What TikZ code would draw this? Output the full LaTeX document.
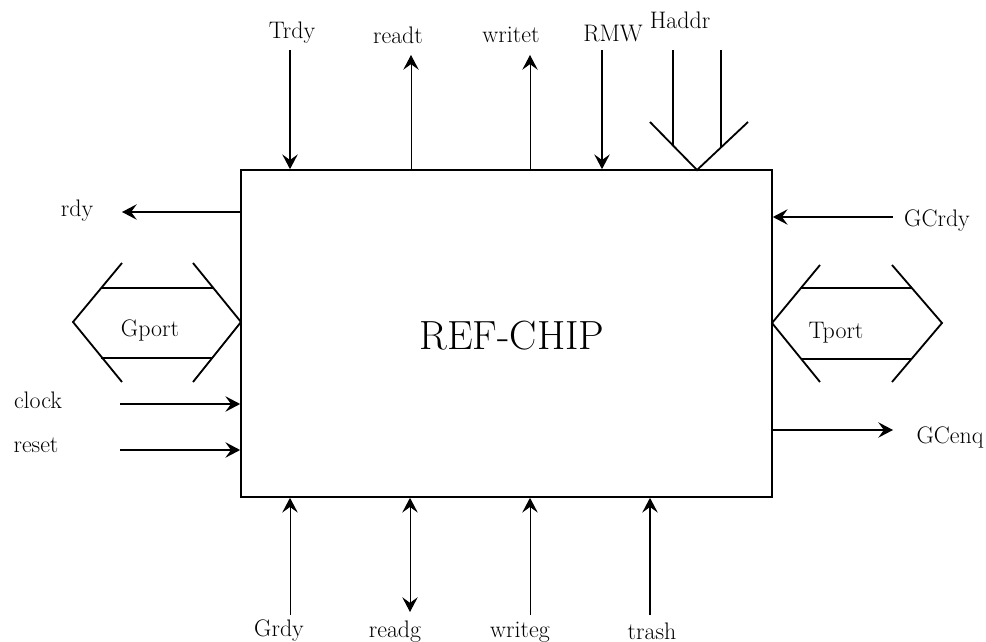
\documentclass[tikz,border=0pt]{standalone}
\usepackage{tikz}
\usetikzlibrary{arrows.meta,positioning,calc}

\begin{document}
\begin{tikzpicture}[
    x=0.025cm, y=-0.025cm,
    >={Stealth[length=10.5pt,width=11pt,inset=4pt]},
    font=\fontsize{17}{19}\selectfont,
    chip/.style={
        draw=black,
        line width=1.1pt,
        minimum width=13.275cm,
        minimum height=8.175cm,
        inner sep=0pt
    },
    sig/.style={->, line width=1pt},
    thinsig/.style={->, line width=0.7pt},
    port/.style={line width=1.3pt, line join=miter},
    bar/.style={line width=1pt},
    lbl/.style={inner sep=0pt}
]
\useasboundingbox (0,0) rectangle (986,642);

% chip
\node[chip] (chip) at (506.5,333.5) {};
\node[font=\fontsize{29}{33}\selectfont] (title) at (512,336) {REF-CHIP};

% top signals
\coordinate (trdy-s) at (290,50);
\coordinate (readt-e) at (411,55);
\coordinate (writet-e) at (530,55);
\coordinate (rmw-s) at (602,50);

\node[lbl] (trdy) at (292,33) {Trdy};
\node[lbl] (readt) at (398,35) {readt};
\node[lbl] (writet) at (511,35) {writet};
\node[lbl] (rmw) at (613,34) {RMW};
\node[lbl] (haddr) at (680,20) {Haddr};

\draw[sig] (trdy-s) -- (trdy-s |- chip.north);
\draw[thinsig] (chip.north -| readt-e) -- (readt-e);
\draw[thinsig] (chip.north -| writet-e) -- (writet-e);
\draw[sig] (rmw-s) -- (rmw-s |- chip.north);

% Haddr bus
\coordinate (haddr-a) at (673,50);
\coordinate (haddr-b) at (721,50);
\draw[port] (650,122) -- (697,170) -- (748,122);
\draw[bar] (haddr-a) -- (673,145.5);
\draw[bar] (haddr-b) -- (721,147.4);

% left side
\coordinate (rdy-e) at (122,212);
\coordinate (clock-s) at (120,404);
\coordinate (reset-s) at (120,450);

\node[lbl] (rdy) at (77,211) {rdy};
\node[lbl] (clock) at (38,400) {clock};
\node[lbl] (reset) at (36,445) {reset};

\draw[sig] (chip.west |- rdy-e) -- (rdy-e);
\draw[sig] (clock-s) -- (clock-s -| chip.west);
\draw[sig] (reset-s) -- (reset-s -| chip.west);

% Gport
\draw[port] (122,263) -- (73,322) -- (122,382);
\draw[port] (193,263) -- (241,322) -- (193,382);
\draw[bar] (101,288) -- (213,288) (101,358) -- (213,358);
\node[lbl] (gport) at (150,330) {Gport};

% right side
\coordinate (gcrdy-s) at (893,217);
\coordinate (gcenq-e) at (893,430);

\node[lbl] (gcrdy) at (937,221) {GCrdy};
\node[lbl] (gcenq) at (950,437) {GCenq};

\draw[sig] (gcrdy-s) -- (gcrdy-s -| chip.east);
\draw[sig] (chip.east |- gcenq-e) -- (gcenq-e);

% Tport
\draw[port] (820,265) -- (772,323) -- (820,382);
\draw[port] (892,265) -- (942,323) -- (892,382);
\draw[bar] (801,288) -- (912,288) (801,359) -- (912,359);
\node[lbl] (tport) at (836,333) {Tport};

% bottom signals
\coordinate (grdy-s) at (290,615);
\coordinate (readg-e) at (410,612);
\coordinate (writeg-s) at (530,615);
\coordinate (trash-s) at (650,615);

\node[lbl] (grdy) at (279,631) {Grdy};
\node[lbl] (readg) at (395,632) {readg};
\node[lbl] (writeg) at (520,632) {writeg};
\node[lbl] (trash) at (652,631) {trash};

\draw[thinsig] (grdy-s) -- (grdy-s |- chip.south);
\draw[thinsig, <->] (chip.south -| readg-e) -- (readg-e);
\draw[thinsig] (writeg-s) -- (writeg-s |- chip.south);
\draw[sig] (trash-s) -- (trash-s |- chip.south);

\end{tikzpicture}
\end{document}
